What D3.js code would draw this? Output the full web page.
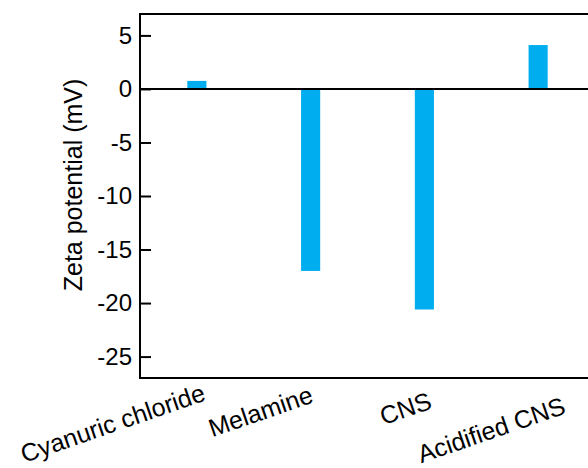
<!DOCTYPE html>
<html><head><meta charset="utf-8">
<script src="https://cdn.jsdelivr.net/npm/d3@7"></script>
<style>
html,body{margin:0;padding:0;background:#fff;}
svg{display:block;font-family:Arial,"Liberation Sans",sans-serif;}
</style></head>
<body>
<script>
const categories = ["Cyanuric chloride", "Melamine", "CNS", "Acidified CNS"];
const zetaValues = [0.75, -17.0, -20.6, 4.1];
const yTicks = [5, 0, -5, -10, -15, -20, -25];
const yTitle = "Zeta potential (mV)";

const W = 588, H = 468;
const margin = {left: 140, top: 14, right: -7, bottom: 90};
const svg = d3.select("body").append("svg").attr("width", W).attr("height", H);

const x = d3.scaleBand().domain(categories).range([margin.left, W - margin.right]).padding(0);
const y = d3.scaleLinear().domain([-27, 7]).range([H - margin.bottom, margin.top]);
const barW = x.bandwidth() * 0.168;
const color = "#00adef";

// bars
svg.append("g").selectAll("rect").data(categories).join("rect")
  .attr("x", (d) => x(d) + x.bandwidth() / 2 - barW / 2)
  .attr("width", barW)
  .attr("y", (d, i) => y(Math.max(0, zetaValues[i])))
  .attr("height", (d, i) => Math.abs(y(zetaValues[i]) - y(0)))
  .attr("fill", color);

// top frame line
svg.append("line").attr("x1", margin.left).attr("x2", W).attr("y1", y(7)).attr("y2", y(7))
  .attr("stroke", "#000").attr("stroke-width", 2);
// bottom frame line
svg.append("line").attr("x1", margin.left - 1).attr("x2", W).attr("y1", y(-27)).attr("y2", y(-27))
  .attr("stroke", "#000").attr("stroke-width", 2);
// zero line
svg.append("line").attr("x1", margin.left).attr("x2", W).attr("y1", y(0)).attr("y2", y(0))
  .attr("stroke", "#000").attr("stroke-width", 2);

// y axis
const yAxis = d3.axisLeft(y).tickValues(yTicks).tickSize(-11).tickPadding(8).tickFormat(d3.format("d"));
const gy = svg.append("g").attr("transform", `translate(${margin.left},0)`).call(yAxis);
gy.select(".domain").attr("stroke", "#000").attr("stroke-width", 2)
  .attr("d", `M0,${y(-27) + 1}V${y(7) - 1}`);
gy.selectAll(".tick line").attr("stroke", "#000").attr("stroke-width", 2);
gy.selectAll(".tick text").attr("font-size", 24).attr("fill", "#000")
  .attr("font-family", 'Arial,"Liberation Sans",sans-serif')
  .text((d) => d < 0 ? "-" + Math.abs(d) : d);

// y title
svg.append("text").attr("transform", `translate(82,185) rotate(-90)`)
  .attr("text-anchor", "middle").attr("font-size", 25).attr("fill", "#000").text(yTitle);

// x labels (rotated)
const labelNudge = [{dx: 10, dy: 22}, {dx: 4, dy: 24}, {dx: 9, dy: 30}, {dx: 29, dy: 35}];
svg.append("g").selectAll("text").data(categories).join("text")
  .attr("transform", (d, i) => `translate(${x(d) + x.bandwidth() / 2 + labelNudge[i].dx},${y(-27) + labelNudge[i].dy}) rotate(-19)`)
  .attr("text-anchor", "end").attr("font-size", 25).attr("fill", "#000")
  .text((d) => d);
</script>
</body></html>
